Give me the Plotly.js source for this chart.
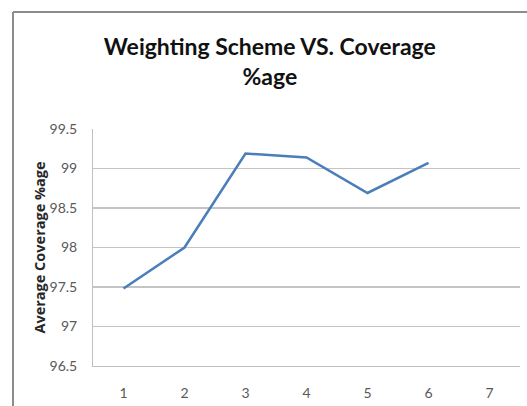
<!DOCTYPE html>
<html>
<head>
<meta charset="utf-8">
<script src="https://cdn.plot.ly/plotly-3.0.1.min.js"></script>
<style>
  body { margin: 0; background: #fff; overflow: hidden; }
  #chart { width: 527px; height: 406px; }
</style>
</head>
<body>
<div id="chart"></div>
<script>
// weighting scheme number on x, average coverage on y
var schemes = ["1", "2", "3", "4", "5", "6", "7"];
var coverage = [97.48, 98.0, 99.19, 99.14, 98.69, 99.07, null];

var yTicks = [96.5, 97, 97.5, 98, 98.5, 99, 99.5];

var trace = {
    x: schemes,
    y: coverage,
    type: "scatter",
    mode: "lines",
    line: {color: "#4a7ebb", width: 2.5},
    connectgaps: false,
    hoverinfo: "x+y"
};

// plot area in pixels, used to place the outer frame
var plotLeft = 93, plotTop = 129, plotW = 427, plotH = 237;
var frameX = (13 - plotLeft) / plotW;
var frameY = 1 + (plotTop - 12) / plotH;

var layout = {
    width: 527,
    height: 406,
    margin: {l: plotLeft, r: 527 - plotLeft - plotW, t: plotTop, b: 406 - plotTop - plotH},
    paper_bgcolor: "#ffffff",
    plot_bgcolor: "#ffffff",
    showlegend: false,
    font: {family: "Lato, 'Open Sans', sans-serif", color: "#595959", size: 14},
    title: {
        text: "<b>Weighting Scheme VS. Coverage<br>%age</b>",
        font: {family: "Lato, 'Open Sans', sans-serif", size: 23, color: "#111111"},
        x: 0.512,
        xanchor: "center",
        y: 0.865,
        yanchor: "top"
    },
    xaxis: {
        type: "category",
        range: [-0.5, 6.5],
        showgrid: false,
        zeroline: false,
        showline: true,
        linecolor: "#bfbfbf",
        linewidth: 1,
        ticks: "",
        ticklabelstandoff: 14,
        fixedrange: true
    },
    yaxis: {
        range: [96.5, 99.5],
        tickvals: yTicks,
        ticktext: yTicks.map(String),
        showgrid: true,
        gridcolor: "#c4c4c4",
        gridwidth: 1.2,
        zeroline: false,
        showline: true,
        linecolor: "#bfbfbf",
        linewidth: 1,
        ticks: "",
        ticklabelstandoff: 12,
        title: {
            text: "<b>Average Coverage %age</b>",
            font: {family: "'Open Sans', sans-serif", size: 14.5, color: "#262626"},
            standoff: 0
        },
        fixedrange: true
    },
    shapes: [
        // outer chart frame, cut off by the picture edge on the right and bottom
        {type: "line", xref: "paper", yref: "paper", x0: frameX, x1: 1.1, y0: frameY, y1: frameY,
         line: {color: "#8c8c8c", width: 2}, layer: "above"},
        {type: "line", xref: "paper", yref: "paper", x0: frameX, x1: frameX, y0: -0.3, y1: frameY,
         line: {color: "#8c8c8c", width: 2}, layer: "above"}
    ]
};

Plotly.newPlot("chart", [trace], layout, {displayModeBar: false, staticPlot: true});
</script>
</body>
</html>
